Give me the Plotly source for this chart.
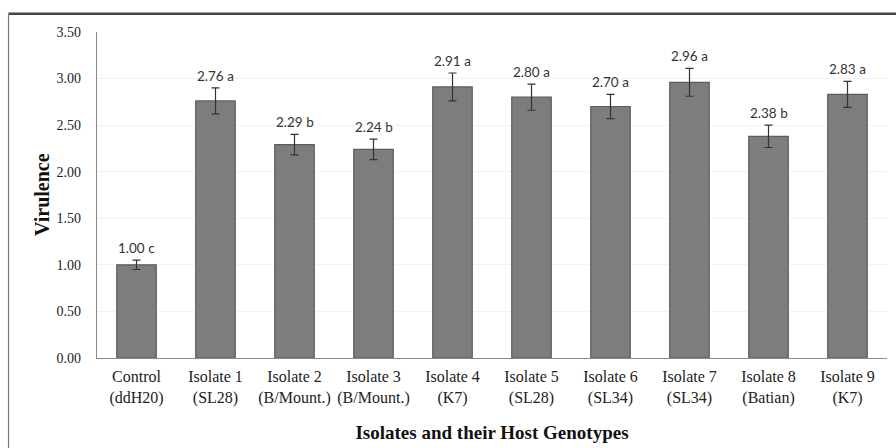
import plotly.graph_objects as go

# Isolates (with their host genotypes) and mean virulence scores
categories = [
    "Control<br>(ddH20)", "Isolate 1<br>(SL28)", "Isolate 2<br>(B/Mount.)",
    "Isolate 3<br>(B/Mount.)", "Isolate 4<br>(K7)", "Isolate 5<br>(SL28)",
    "Isolate 6<br>(SL34)", "Isolate 7<br>(SL34)", "Isolate 8<br>(Batian)",
    "Isolate 9<br>(K7)",
]
virulence = [1.00, 2.76, 2.29, 2.24, 2.91, 2.80, 2.70, 2.96, 2.38, 2.83]
errors = [0.05, 0.14, 0.11, 0.11, 0.15, 0.14, 0.13, 0.15, 0.12, 0.14]
groups = ["c", "a", "b", "b", "a", "a", "a", "a", "b", "a"]
y_ticks = [0.0, 0.5, 1.0, 1.5, 2.0, 2.5, 3.0, 3.5]

SERIF = "Liberation Serif, Times New Roman, serif"

fig = go.Figure()
fig.add_trace(go.Bar(
    x=categories,
    y=virulence,
    width=0.5,
    marker=dict(color="#7d7d7d", line=dict(color="#5c5c5c", width=1.2)),
    error_y=dict(type="data", array=errors, visible=True,
                 color="#333333", thickness=1.2, width=4),
    hoverinfo="skip",
))

# value + significance letter above each error bar
for cat, v, e, g in zip(categories, virulence, errors, groups):
    fig.add_annotation(
        x=cat, y=v + e, text=f"{v:.2f} {g}", showarrow=False,
        yanchor="bottom", yshift=2,
        font=dict(family="Lato, Open Sans, sans-serif", size=13.5, color="#333333"),
    )

# y-axis title, rotated, placed beside the tick labels
fig.add_annotation(
    xref="paper", yref="paper", x=0, y=0.5, xshift=-55,
    xanchor="center", yanchor="middle", textangle=-90, showarrow=False,
    text="<b>Virulence</b>", font=dict(family=SERIF, size=20, color="#111111"),
)

# outer frame (top and left edges)
fig.add_shape(type="line", xref="paper", yref="paper",
              x0=-0.112, x1=1.05, y0=1.056, y1=1.056,
              line=dict(color="#444444", width=2.5))
fig.add_shape(type="line", xref="paper", yref="paper",
              x0=-0.112, x1=-0.112, y0=1.056, y1=-0.3,
              line=dict(color="#777777", width=1.2))

fig.update_layout(
    width=896, height=448,
    margin=dict(l=97, r=9, t=32, b=90),
    paper_bgcolor="white", plot_bgcolor="white",
    showlegend=False,
    font=dict(family=SERIF, color="#222222"),
    xaxis=dict(
        showline=True, linecolor="#8a8a8a", linewidth=1.2,
        ticks="", ticklabelstandoff=4,
        tickfont=dict(family=SERIF, size=16, color="#222222"),
        title=dict(text="<b>Isolates and their Host Genotypes</b>",
                   font=dict(family=SERIF, size=19, color="#111111"), standoff=19),
    ),
    yaxis=dict(
        range=[0, 3.5], tickvals=y_ticks,
        ticktext=[f"{t:.2f}" for t in y_ticks],
        showline=True, linecolor="#8a8a8a", linewidth=1.2,
        showgrid=True, gridcolor="#f3f3f3", zeroline=False,
        ticks="", ticklabelstandoff=12,
        tickfont=dict(family=SERIF, size=14, color="#222222"),
    ),
)

fig.write_html("out.html")
